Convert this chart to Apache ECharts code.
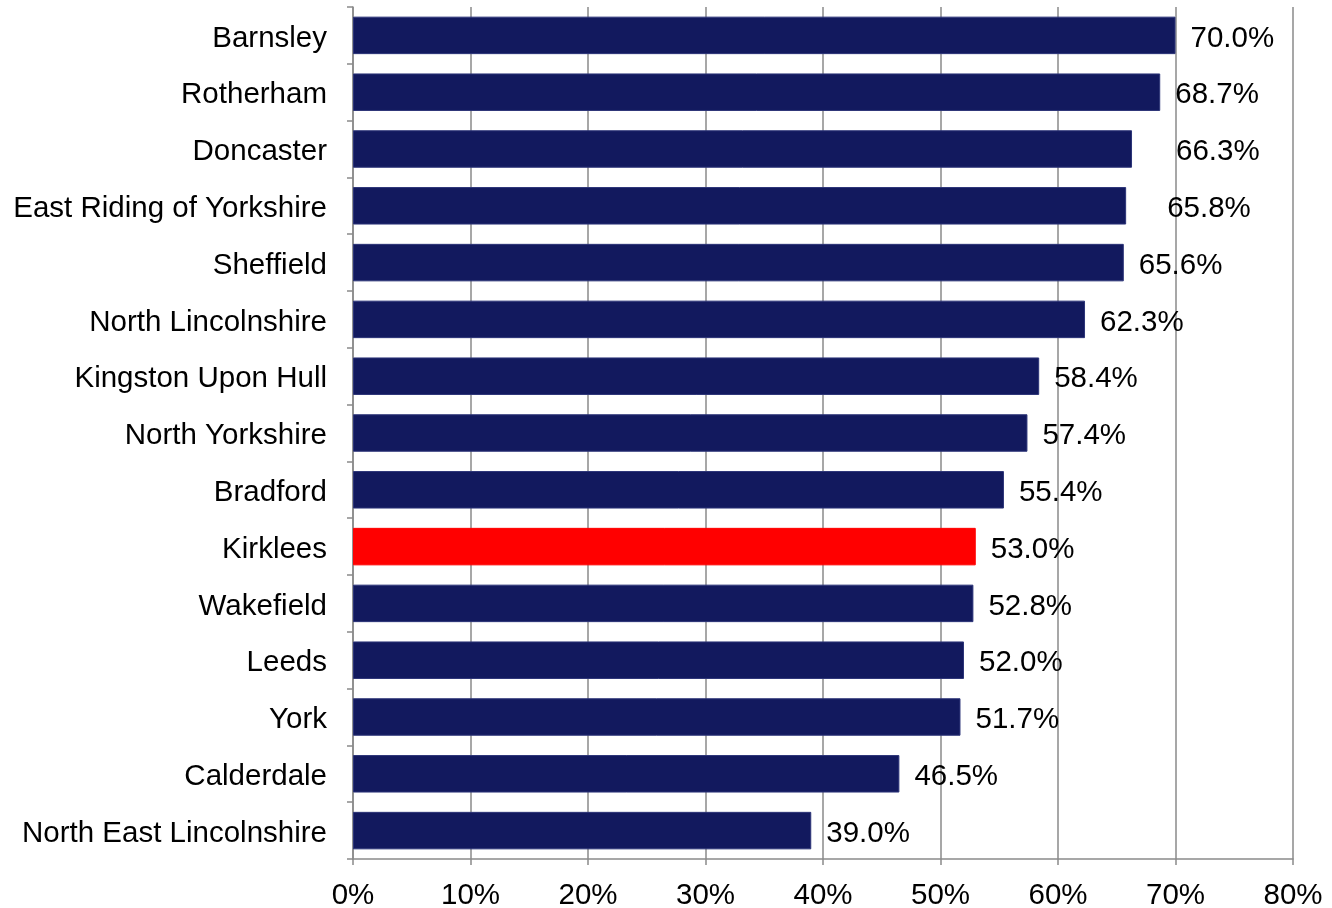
<!DOCTYPE html>
<html>
<head>
<meta charset="utf-8">
<script src="https://cdn.jsdelivr.net/npm/echarts@6/dist/echarts.min.js"></script>
<style>
  html, body { margin: 0; padding: 0; background: #fff; }
  #main { width: 1332px; height: 908px; }
</style>
</head>
<body>
<div id="main"></div>
<script>
// areas, top to bottom
const areas = [
  "Barnsley", "Rotherham", "Doncaster", "East Riding of Yorkshire", "Sheffield",
  "North Lincolnshire", "Kingston Upon Hull", "North Yorkshire", "Bradford", "Kirklees",
  "Wakefield", "Leeds", "York", "Calderdale", "North East Lincolnshire"
];
const percentValues = [70.0, 68.7, 66.3, 65.8, 65.6, 62.3, 58.4, 57.4, 55.4, 53.0, 52.8, 52.0, 51.7, 46.5, 39.0];
const xTicks = [0, 10, 20, 30, 40, 50, 60, 70, 80];
const highlight = "Kirklees";

// Excel nudged a couple of labels further right
const labelNudge = { "Doncaster": 29, "East Riding of Yorkshire": 26 };

const chart = echarts.init(document.getElementById("main"));
const font = "Liberation Sans, Arial, sans-serif";
const grey = "#8a8a8a";
const fs = 29.5;

chart.setOption({
  animation: false,
  grid: { left: 353, right: 39, top: 7, bottom: 49, containLabel: false, outerBoundsMode: "none" },
  xAxis: {
    type: "value",
    min: xTicks[0],
    max: xTicks[xTicks.length - 1],
    interval: 10,
    axisLine: { show: true, lineStyle: { color: grey, width: 1.5 } },
    axisTick: { show: true, length: 6, lineStyle: { color: grey, width: 1.5 } },
    splitLine: { show: true, lineStyle: { color: grey, width: 1.5 } },
    axisLabel: {
      formatter: "{value}%",
      fontFamily: font,
      fontSize: fs,
      color: "#000",
      margin: 22
    }
  },
  yAxis: {
    type: "category",
    data: areas,
    inverse: true,
    axisLine: { show: true, lineStyle: { color: grey, width: 1.5 } },
    axisTick: { show: true, length: 6, lineStyle: { color: grey, width: 1.5 } },
    axisLabel: {
      fontFamily: font, fontSize: fs, color: "#000", margin: 26,
      formatter: "{a|{value}}",
      rich: { a: { fontFamily: font, fontSize: fs, color: "#000", padding: [6, 0, 0, 0] } }
    }
  },
  series: [{
    type: "bar",
    barCategoryGap: "34%",
    data: percentValues.map((v, i) => ({
      value: v,
      itemStyle: {
        color: areas[i] === highlight ? "#ff0000" : "#12195e",
        borderColor: areas[i] === highlight ? "#ff0000" : "#2c3478",
        borderWidth: 1
      },
      label: { offset: [labelNudge[areas[i]] || 0, 3] }
    })),
    label: {
      show: true,
      position: "right",
      distance: 15,
      formatter: p => p.value.toFixed(1) + "%",
      fontFamily: font,
      fontSize: fs,
      color: "#000"
    }
  }]
});
</script>
</body>
</html>
